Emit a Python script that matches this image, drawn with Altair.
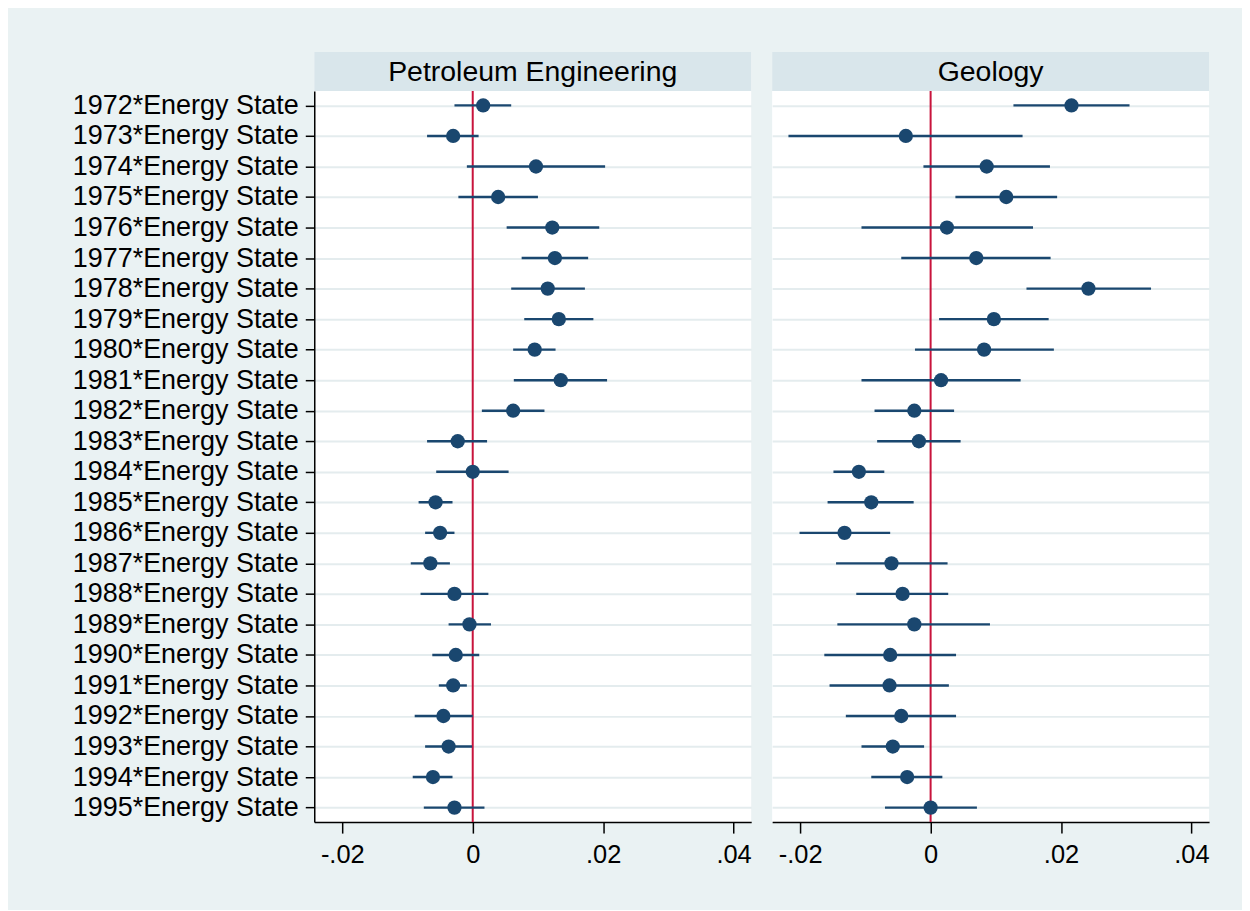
import altair as alt
import pandas as pd

years = list(range(1972, 1996))
row_labels = [f"{y}*Energy State" for y in years]
panels = ["Petroleum Engineering", "Geology"]

pe_coef = [0.0016, -0.0030, 0.0097, 0.0039, 0.0122, 0.0126, 0.0115, 0.0132, 0.0095, 0.0135, 0.0062, -0.0023,
           0.0000, -0.0057, -0.0050, -0.0065, -0.0028, -0.0005, -0.0026, -0.0030, -0.0045, -0.0037, -0.0061, -0.0028]
pe_lo = [-0.0028, -0.0070, -0.0009, -0.0022, 0.0052, 0.0075, 0.0059, 0.0079, 0.0062, 0.0063, 0.0014, -0.0070,
         -0.0056, -0.0083, -0.0073, -0.0095, -0.0080, -0.0037, -0.0062, -0.0052, -0.0089, -0.0073, -0.0092, -0.0075]
pe_hi = [0.0059, 0.0009, 0.0203, 0.0100, 0.0194, 0.0177, 0.0172, 0.0185, 0.0127, 0.0206, 0.0110, 0.0022,
         0.0055, -0.0031, -0.0028, -0.0035, 0.0024, 0.0028, 0.0010, -0.0009, 0.0000, -0.0001, -0.0031, 0.0018]

geo_coef = [0.0216, -0.0038, 0.0086, 0.0116, 0.0025, 0.0070, 0.0242, 0.0097, 0.0082, 0.0016, -0.0025, -0.0018,
            -0.0110, -0.0091, -0.0132, -0.0060, -0.0043, -0.0025, -0.0062, -0.0063, -0.0045, -0.0058, -0.0036, 0.0000]
geo_lo = [0.0127, -0.0218, -0.0011, 0.0038, -0.0106, -0.0045, 0.0147, 0.0013, -0.0024, -0.0106, -0.0086, -0.0082,
          -0.0149, -0.0158, -0.0201, -0.0145, -0.0114, -0.0143, -0.0163, -0.0155, -0.0130, -0.0106, -0.0091, -0.0070]
geo_hi = [0.0305, 0.0141, 0.0183, 0.0194, 0.0157, 0.0184, 0.0338, 0.0181, 0.0189, 0.0138, 0.0036, 0.0046,
          -0.0071, -0.0026, -0.0062, 0.0026, 0.0027, 0.0091, 0.0039, 0.0028, 0.0039, -0.0010, 0.0018, 0.0071]

x_ticks = [-0.02, 0, 0.02, 0.04]
x_tick_labels = ["-.02", "0", ".02", ".04"]

W = 438
H = 772
STRIP = 39
X_DOMAIN = [-0.0243, 0.0427]
FONT = "Liberation Sans"
NAVY = "#1A476F"
GRID = "#E4ECEE"

label_expr = "".join(f"abs(datum.value - ({v})) < 1e-9 ? '{t}' : " for v, t in zip(x_ticks, x_tick_labels)) + "''"


def panel(name, coef, lo, hi, show_y):
    df = pd.DataFrame({"label": row_labels, "coef": coef, "lo": lo, "hi": hi})
    xs = alt.Scale(domain=X_DOMAIN, nice=False, zero=False)
    ys = alt.Scale(type="point", domain=row_labels, range=[STRIP, H], padding=0.476)
    xaxis = alt.Axis(title=None, values=x_ticks, labelExpr=label_expr, labelFont=FONT, labelFontSize=25.5,
                     labelColor="black", tickSize=11, tickColor="black", tickWidth=1.5,
                     domainColor="black", domainWidth=1.5, labelPadding=9, grid=False,
                     labelFlush=False, labelOverlap=False, minExtent=40, maxExtent=40)
    if show_y:
        yaxis = alt.Axis(title=None, labelFont=FONT, labelFontSize=27, labelColor="black", labelLimit=400,
                         tickSize=9, tickColor="black", tickWidth=1.5, domainColor="black", domainWidth=1.5,
                         labelPadding=7, grid=True, gridColor=GRID, gridWidth=2,
                         minExtent=242, maxExtent=242, labelOverlap=False)
    else:
        yaxis = alt.Axis(title=None, labels=False, ticks=False, domain=False, grid=True,
                         gridColor=GRID, gridWidth=2, minExtent=0, maxExtent=0)

    zero_df = pd.DataFrame({"zero": [0.0]})
    head_df = pd.DataFrame({"panel": [name]})

    rule0 = alt.Chart(zero_df).mark_rule(color="#C8143C", strokeWidth=2).encode(
        x=alt.X("zero:Q", scale=xs, axis=xaxis)
    )
    ci = alt.Chart(df).mark_rule(color=NAVY, strokeWidth=2.4).encode(
        x=alt.X("lo:Q", scale=xs, axis=xaxis),
        x2="hi:Q",
        y=alt.Y("label:N", scale=ys, sort=row_labels, axis=yaxis),
    )
    pts = alt.Chart(df).mark_circle(color=NAVY, size=205, opacity=1).encode(
        x=alt.X("coef:Q", scale=xs, axis=xaxis),
        y=alt.Y("label:N", scale=ys, sort=row_labels, axis=yaxis),
    )
    strip = alt.Chart(head_df).mark_rect(color="#D9E6EB").encode(
        x=alt.value(0), x2=alt.value(W), y=alt.value(0), y2=alt.value(STRIP)
    )
    title = alt.Chart(head_df).mark_text(font=FONT, fontSize=28.5, color="black",
                                         align="center", baseline="middle").encode(
        x=alt.value(W / 2), y=alt.value(STRIP / 2 + 1), text="panel:N"
    )
    return alt.layer(rule0, ci, pts, strip, title).properties(width=W, height=H)


left = panel(panels[0], pe_coef, pe_lo, pe_hi, True)
right = panel(panels[1], geo_coef, geo_lo, geo_hi, False)

chart = alt.hconcat(left, right, spacing=20).properties(
    background="#EAF2F3",
    padding={"left": 64, "top": 42, "right": 32, "bottom": 41},
).configure_view(fill="white", strokeWidth=0)

chart.save("out.html", embed_options={"renderer": "svg", "actions": False})
